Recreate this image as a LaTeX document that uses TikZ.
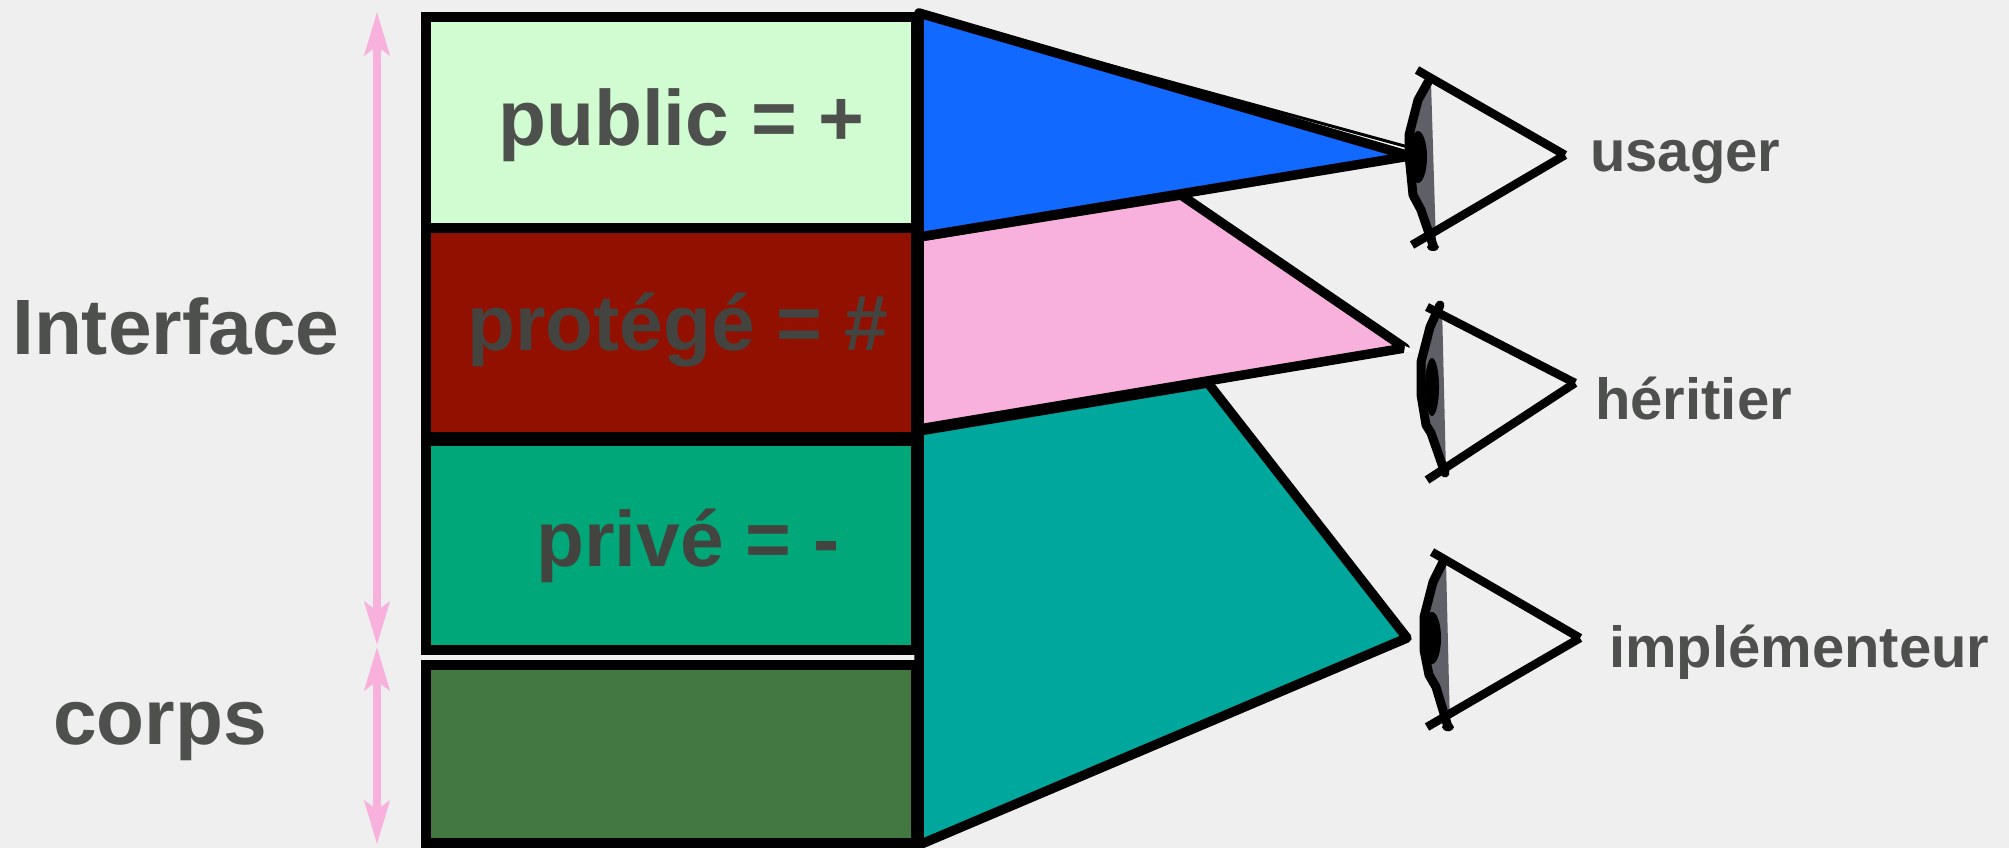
\documentclass[tikz,border=0pt]{standalone}
\usepackage{fontspec}
\setmainfont{Liberation Sans}
\usetikzlibrary{arrows.meta}
\definecolor{paper}{HTML}{EFEFEF}
\definecolor{ink}{HTML}{4D504C}
\definecolor{inkdark}{HTML}{43443F}
\definecolor{cpublic}{HTML}{D1FBD1}
\definecolor{cprot}{HTML}{921000}
\definecolor{cprive}{HTML}{00A778}
\definecolor{ccorps}{HTML}{437843}
\definecolor{cblue}{HTML}{1269FF}
\definecolor{cpink}{HTML}{F8B0DC}
\definecolor{cteal}{HTML}{00A79C}
\definecolor{lens}{HTML}{5F5F68}
\tikzset{
  panel/.style={draw=black,line width=9.5pt,line join=miter},
  wedge/.style={draw=black,line width=9.5pt,line join=round},
  span/.style={draw=cpink,line width=7.5pt,{Stealth[length=43pt,width=25pt,inset=9pt]}-{Stealth[length=43pt,width=25pt,inset=9pt]},shorten >=-1pt,shorten <=-1pt},
  eyeline/.style={draw=black,line width=8.5pt,line cap=butt},
  lensfill/.style={fill=lens},
  lensline/.style={draw=black,line width=9pt,line join=round,line cap=round},
  big/.style={font=\fontsize{78.5}{79}\selectfont\bfseries,text=ink,anchor=base west,inner sep=0pt},
  small/.style={font=\fontsize{58}{58}\selectfont\bfseries,text=ink,anchor=base west,inner sep=0pt}
}
\begin{document}
\begin{tikzpicture}[x=1pt,y=-1pt]
\useasboundingbox (0,0) rectangle (2009,848);
\fill[paper] (0,0) rectangle (2009,848);
% wedges
\draw[wedge,fill=cteal] (919,431) -- (1208,383) -- (1407,638) -- (919,845) -- cycle;
\draw[wedge,fill=cpink] (919,237) -- (1181,195) -- (1405,348) -- (919,429) -- cycle;
\fill[white] (1405,346) -- (1416,351) -- (1404,353) -- cycle;
\fill[white] (1180,84) -- (1408,147) -- (1410,156) -- cycle;
\draw[wedge,fill=cblue] (919,13) -- (1410,156) -- (919,237) -- cycle;
\draw[draw=black,line width=3pt] (919,13) -- (1408,147);
% panels
\draw[panel,fill=cpublic] (426,17) rectangle (916,228);
\draw[panel,fill=cprot] (426,228) rectangle (916,437);
\draw[panel,fill=cprive] (426,441) rectangle (916,650);
\draw[panel,fill=ccorps] (426,665) rectangle (916,843);
% spans
\coordinate (a1) at (377,13);
\coordinate (a2) at (377,644);
\coordinate (b1) at (377,648);
\coordinate (b2) at (377,843);
\draw[span] (a1) -- (a2);
\draw[span] (b1) -- (b2);
% labels
\node[big] (lpublic) at (498,146) {public = +};
\node[big,text=inkdark] (lprot) at (467,350) {protégé = \#};
\node[big,text=inkdark] (lprive) at (536,566) {privé = -};
\node[big] (linterface) at (12,354) {Interface};
\node[big] (lcorps) at (53,744) {corps};
\node[small] (lusager) at (1590,171) {usager};
\node[small] (lher) at (1595,419) {héritier};
\node[small] (limp) at (1609,667) {implémenteur};
% eye 1
\fill[lensfill] (1428,82) -- (1418,100) -- (1409,135) -- (1409,155) -- (1413,195) -- (1421,210) -- (1433,245) -- (1436,245) -- (1431,82) -- cycle;
\draw[lensline] (1428,82) -- (1418,100) -- (1409,135) -- (1409,155) -- (1413,195) -- (1421,210) -- (1433,245);
\fill[black] (1418,157) ellipse (9 and 26);
\fill[black] (1433,247) ellipse (6 and 4);
\draw[eyeline] (1417,70) -- (1565,155);
\draw[eyeline] (1412,245) -- (1565,155);
% eye 2
\fill[lensfill] (1440,305) -- (1430,327) -- (1421,362) -- (1421,395) -- (1426,425) -- (1431,433) -- (1445,473) -- (1446,473) -- (1442,305) -- cycle;
\draw[lensline] (1440,305) -- (1430,327) -- (1421,362) -- (1421,395) -- (1426,425) -- (1431,433) -- (1445,473);
\fill[black] (1432,387) ellipse (7 and 29);
\draw[eyeline] (1427,307) -- (1575,383);
\draw[eyeline] (1427,480) -- (1575,383);
% eye 3
\fill[lensfill] (1443,562) -- (1433,582) -- (1424,617) -- (1424,650) -- (1429,675) -- (1436,687) -- (1448,727) -- (1450,727) -- (1446,562) -- cycle;
\draw[lensline] (1443,562) -- (1433,582) -- (1424,617) -- (1424,650) -- (1429,675) -- (1436,687) -- (1448,727);
\fill[black] (1432,638) ellipse (9 and 26);
\fill[black] (1448,727) ellipse (6 and 4);
\draw[eyeline] (1432,552) -- (1580,638);
\draw[eyeline] (1427,727) -- (1580,638);
\end{tikzpicture}
\end{document}
